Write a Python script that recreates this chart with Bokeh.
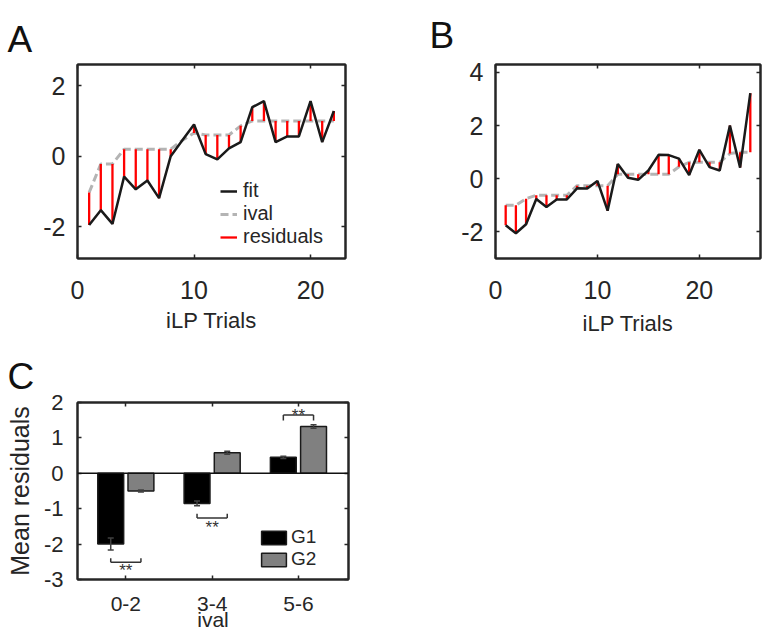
import numpy as np
from bokeh.plotting import figure
from bokeh.models import (ColumnDataSource, LinearAxis, FixedTicker, Range1d, Legend,
                          LegendItem, Span, Whisker, TeeHead, Title, CustomLabelingPolicy)
from bokeh.layouts import row, column
from bokeh.embed import file_html
from bokeh.resources import INLINE
from bokeh.core.properties import value

FONT = "Liberation Sans"
TXT = "#262626"

# ---------------- data ----------------
trials_A = list(range(1, 23))
fit_A = [-1.95, -1.53, -1.92, -0.58, -0.94, -0.69, -1.19, 0.0, 0.45, 0.9, 0.06,
         -0.09, 0.22, 0.4, 1.39, 1.56, 0.4, 0.56, 0.56, 1.56, 0.4, 1.28]
ival_A = [-1.03, -0.22, -0.22, 0.2, 0.2, 0.2, 0.2, 0.2, 0.45, 0.66, 0.6,
          0.6, 0.6, 0.86, 1.0, 1.0, 1.0, 1.0, 1.0, 1.0, 1.0, 1.0]

trials_B = list(range(1, 26))
fit_B = [-1.75, -2.05, -1.71, -0.76, -1.06, -0.78, -0.78, -0.36, -0.37, -0.08, -1.2,
         0.56, 0.04, -0.04, 0.31, 0.9, 0.89, 0.76, 0.14, 1.09, 0.44, 0.31, 2.0, 0.42, 3.22]
ival_B = [-1.0, -1.0, -0.75, -0.62, -0.62, -0.62, -0.62, -0.26, -0.26, -0.26, -0.26,
          0.17, 0.17, 0.17, 0.17, 0.17, 0.17, 0.45, 0.62, 0.62, 0.62, 0.62, 0.95, 1.0, 1.0]

xticks_AB = [0, 10, 20]
xlabels_AB = ["0", "10", "20"]
yticks_A = [-2, 0, 2]
ylabels_A = ["-2", "0", "2"]
yticks_B = [-2, 0, 2, 4]
ylabels_B = ["-2", "0", "2", "4"]

groups = ["0-2", "3-4", "5-6"]
g1_mean = [-2.0, -0.85, 0.45]
g1_err = [0.17, 0.07, 0.03]
g2_mean = [-0.5, 0.58, 1.32]
g2_err = [0.03, 0.04, 0.05]
yticks_C = [-3, -2, -1, 0, 1, 2]
ylabels_C = ["-3", "-2", "-1", "0", "1", "2"]
sig_line_y = [-2.51, -1.26, 1.65]
sig_tick_y = [-2.40, -1.14, 1.49]
star_y = [-2.67, -1.45, 1.73]
stars = ["**", "**", "**"]

HIDE = "if (indices.clear) { indices.clear() } else { for (let i = 0; i < indices.size; i++) indices.unset(i) } return indices"


def mirror_axis(ticks):
    return LinearAxis(ticker=FixedTicker(ticks=ticks), major_label_text_font_size="1px",
                      major_label_policy=CustomLabelingPolicy(code=HIDE),
                      major_label_standoff=0, major_tick_in=4, major_tick_out=0,
                      major_tick_line_color=TXT, major_tick_line_width=1.5,
                      minor_tick_line_color=None, axis_line_color=TXT, axis_line_width=2)


def style_axes(p, xticks, xlabels, yticks, ylabels, xfs, yfs, xstand, ystand):
    p.xaxis.ticker = FixedTicker(ticks=xticks)
    p.yaxis.ticker = FixedTicker(ticks=yticks)
    p.xaxis.major_label_overrides = dict(zip(xticks, xlabels))
    p.yaxis.major_label_overrides = dict(zip(yticks, ylabels))
    p.xaxis.major_label_text_font_size = xfs
    p.yaxis.major_label_text_font_size = yfs
    p.xaxis.major_label_standoff = xstand
    p.yaxis.major_label_standoff = ystand
    for ax in p.xaxis + p.yaxis:
        ax.axis_line_color = TXT
        ax.axis_line_width = 2
        ax.major_tick_line_color = TXT
        ax.major_tick_line_width = 1.5
        ax.major_tick_in = 4
        ax.major_tick_out = 0
        ax.minor_tick_line_color = None
        ax.major_label_text_font = FONT
        ax.major_label_text_color = TXT
        ax.axis_label_text_font = FONT
        ax.axis_label_text_color = TXT
        ax.axis_label_text_font_style = "normal"
    p.add_layout(mirror_axis(xticks), "above")
    p.add_layout(mirror_axis(yticks), "right")
    p.xgrid.grid_line_color = None
    p.ygrid.grid_line_color = None
    p.outline_line_color = TXT
    p.outline_line_width = 2


def panel_title(p, letter, offset, standoff, valign):
    p.title = Title(text=letter, align="left", vertical_align=valign, offset=offset,
                    standoff=standoff, text_font=FONT, text_font_size="37px",
                    text_font_style="normal", text_color="#111111")


def residual_panel(trials, fit, ival, width, height, xr, yr, borders, yticks, ylabels,
                   label_standoff):
    p = figure(width=width, height=height, x_range=Range1d(*xr), y_range=Range1d(*yr),
               output_backend="svg", toolbar_location=None,
               min_border_left=borders[0], min_border_right=borders[1],
               min_border_top=borders[2], min_border_bottom=borders[3])
    src = ColumnDataSource(dict(x=trials, fit=fit, ival=ival))
    r_ival = p.line("x", "ival", source=src, line_color="#b4b4b4", line_width=3,
                    line_dash="8 4")
    r_res = p.segment(x0="x", y0="fit", x1="x", y1="ival", source=src,
                      line_color="#ff0000", line_width=2.3)
    r_fit = p.line("x", "fit", source=src, line_color="#1a1a1a", line_width=2.5)
    style_axes(p, xticks_AB, xlabels_AB, yticks, ylabels, "25px", "25px", 22, 12)
    xb = p.below[0]
    xb.axis_label = "iLP Trials"
    xb.axis_label_text_font_size = "22px"
    xb.axis_label_standoff = label_standoff
    return p, r_fit, r_ival, r_res


# ---------------- panel A ----------------
pA, fA, iA, rA = residual_panel(trials_A, fit_A, ival_A, 388, 343, (0, 23), (-2.9, 2.6),
                                (77, 43, 64, 84), yticks_A, ylabels_A, 6)
legA = Legend(items=[LegendItem(label="fit", renderers=[fA]),
                     LegendItem(label="ival", renderers=[iA]),
                     LegendItem(label="residuals", renderers=[rA])],
              location=(143, 10), padding=0, spacing=0, margin=0,
              glyph_width=17, glyph_height=22, label_height=22, label_standoff=6,
              label_text_font=FONT, label_text_font_size="20px", label_text_color=TXT,
              border_line_color=None, background_fill_alpha=0)
pA.add_layout(legA)
panel_title(pA, "A", -70, -3, "top")

# ---------------- panel B ----------------
pB, fB, iB, rB = residual_panel(trials_B, fit_B, ival_B, 380, 343, (0, 26), (-3, 4.3),
                                (107, 8, 63, 85), yticks_B, ylabels_B, 9)
panel_title(pB, "B", -66, 8, "middle")

# ---------------- panel C ----------------
xs = np.arange(1, len(groups) + 1)
off = 0.175
bw = 0.3
pC = figure(width=400, height=297, x_range=Range1d(0.44, 3.58), y_range=Range1d(-3, 2),
            output_backend="svg", toolbar_location=None,
            min_border_left=77, min_border_right=52, min_border_top=59, min_border_bottom=61)
pC.add_layout(Span(location=0, dimension="width", line_color="#111111", line_width=1.5))
srcC = ColumnDataSource(dict(
    x1=xs - off, x2=xs + off, g1=g1_mean, g2=g2_mean,
    g1_lo=np.array(g1_mean) - np.array(g1_err), g1_hi=np.array(g1_mean) + np.array(g1_err),
    g2_lo=np.array(g2_mean) - np.array(g2_err), g2_hi=np.array(g2_mean) + np.array(g2_err)))
b1 = pC.vbar(x="x1", top="g1", bottom=0, width=bw, source=srcC, fill_color="#000000",
             line_color="#1a1a1a", line_width=1.5)
b2 = pC.vbar(x="x2", top="g2", bottom=0, width=bw, source=srcC, fill_color="#808080",
             line_color="#1a1a1a", line_width=1.5)
for base, lo, hi in (("x1", "g1_lo", "g1_hi"), ("x2", "g2_lo", "g2_hi")):
    w = Whisker(source=srcC, base=base, lower=lo, upper=hi, line_color="#404040",
                line_width=1.5,
                upper_head=TeeHead(size=6, line_color="#404040", line_width=1.5),
                lower_head=TeeHead(size=6, line_color="#404040", line_width=1.5))
    w.level = "overlay"
    pC.add_layout(w)

srcS = ColumnDataSource(dict(x0=xs - off, x1=xs + off, y=sig_line_y, yt=sig_tick_y,
                             ys=star_y, t=stars, xc=xs))
pC.segment(x0="x0", x1="x1", y0="y", y1="y", source=srcS, line_color="#333333", line_width=1.5)
pC.segment(x0="x0", x1="x0", y0="y", y1="yt", source=srcS, line_color="#333333", line_width=1.5)
pC.segment(x0="x1", x1="x1", y0="y", y1="yt", source=srcS, line_color="#333333", line_width=1.5)
pC.text(x="xc", y="ys", text="t", source=srcS, text_font=value(FONT), text_font_size="17px",
        text_color="#333333", text_align="center", text_baseline="middle", y_offset=3)

style_axes(pC, list(xs), groups, yticks_C, ylabels_C, "21px", "22px", 17, 14)
pC.left[0].axis_label = "Mean residuals"
pC.left[0].axis_label_text_font_size = "25px"
pC.left[0].axis_label_standoff = 7
pC.below[0].axis_label = "ival"
pC.below[0].axis_label_text_font_size = "21px"
pC.below[0].axis_label_text_line_height = 1.0
pC.below[0].axis_label_standoff = -6
legC = Legend(items=[LegendItem(label="G1", renderers=[b1]),
                     LegendItem(label="G2", renderers=[b2])],
              location=(181, 9), padding=0, spacing=0, margin=0,
              glyph_width=31, glyph_height=17, label_height=17, label_standoff=2,
              label_text_font=FONT, label_text_font_size="19px", label_text_color=TXT,
              border_line_color=None, background_fill_alpha=0)
pC.add_layout(legC)
panel_title(pC, "C", -70, 4, "bottom")

layout = column(row(pA, pB), pC)
open("out.html", "w").write(file_html(layout, INLINE))
